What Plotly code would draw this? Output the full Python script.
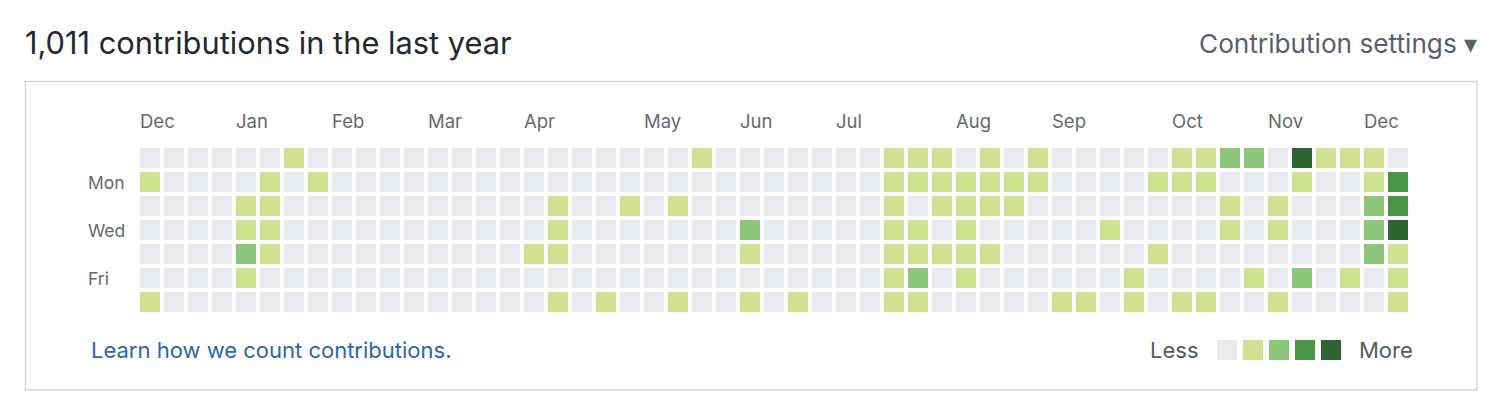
import plotly.graph_objects as go

# ---------------- data ----------------
n_weeks = 53
day_labels = ["", "Mon", "", "Wed", "", "Fri", ""]
month_labels = ["Dec", "Jan", "Feb", "Mar", "Apr", "May", "Jun", "Jul", "Aug", "Sep", "Oct", "Nov", "Dec"]
month_weeks = [0, 4, 8, 12, 16, 21, 25, 29, 34, 38, 43, 47, 51]

# contribution level per (day row -> {week column: level}); other cells are level 0
sun = {6: 1, 23: 1, 31: 1, 32: 1, 33: 1, 35: 1, 37: 1, 43: 1, 44: 1, 45: 2, 46: 2, 48: 4, 49: 1, 50: 1, 51: 1}
mon = {0: 1, 5: 1, 7: 1, 31: 1, 32: 1, 33: 1, 34: 1, 35: 1, 36: 1, 37: 1, 42: 1, 43: 1, 44: 1, 48: 1, 51: 1, 52: 3}
tue = {4: 1, 5: 1, 17: 1, 20: 1, 22: 1, 31: 1, 33: 1, 34: 1, 35: 1, 36: 1, 45: 1, 47: 1, 51: 2, 52: 3}
wed = {4: 1, 5: 1, 17: 1, 25: 2, 31: 1, 32: 1, 34: 1, 40: 1, 45: 1, 47: 1, 51: 2, 52: 4}
thu = {4: 2, 5: 1, 16: 1, 17: 1, 25: 1, 31: 1, 32: 1, 33: 1, 34: 1, 35: 1, 42: 1, 51: 2, 52: 1}
fri = {4: 1, 31: 1, 32: 2, 34: 1, 41: 1, 46: 1, 48: 2, 50: 1, 52: 1}
sat = {0: 1, 17: 1, 19: 1, 22: 1, 25: 1, 27: 1, 31: 1, 32: 1, 38: 1, 39: 1, 41: 1, 43: 1, 44: 1, 47: 1, 52: 1}
week_rows = [sun, mon, tue, wed, thu, fri, sat]

level_colors = ["#e9ebee", "#d0e190", "#8cc679", "#4a9649", "#2e6530"]
title_text = "1,011 contributions in the last year"

# ---------------- figure ----------------
OFF = 8                      # page body margin around the plot div
W, H = 1504 - 2 * OFF, 414 - 2 * OFF
z = [[row.get(w, 0) for w in range(n_weeks)] for row in week_rows]

n = len(level_colors)
colorscale = []
for i, c in enumerate(level_colors):
    colorscale.append([i / n, c])
    colorscale.append([(i + 1) / n, c])

fig = go.Figure()
fig.add_trace(go.Heatmap(
    z=z, x=list(range(n_weeks)), y=list(range(7)),
    zmin=-0.5, zmax=n - 0.5, colorscale=colorscale, showscale=False,
    xgap=4, ygap=4, hoverinfo="skip",
))

def px(x):
    return (x - OFF) / W

def py(y):
    return 1 - (y - OFF) / H

# grid placement: cells 20px, pitch 24px, first cell at x=140, y=148 (window pixels)
x0, x1 = 138, 138 + 24 * n_weeks
y0, y1 = 146, 146 + 24 * 7
FONT = "Inter, Liberation Sans, Arial, sans-serif"
fig.update_layout(
    width=W, height=H,
    margin=dict(l=0, r=0, t=0, b=0),
    paper_bgcolor="white", plot_bgcolor="white",
    font=dict(family=FONT),
    xaxis=dict(domain=[px(x0), px(x1)], range=[-0.5, n_weeks - 0.5], visible=False, fixedrange=True),
    yaxis=dict(domain=[py(y1), py(y0)], range=[6.5, -0.5], visible=False, fixedrange=True),
    showlegend=False,
)

annotations = []
# title
annotations.append(dict(x=px(23), y=py(42), xref="paper", yref="paper", text=title_text,
                        showarrow=False, xanchor="left", yanchor="middle",
                        font=dict(size=30.8, color="#24292e")))
annotations.append(dict(x=px(1479), y=py(43), xref="paper", yref="paper", text="Contribution settings ▾",
                        showarrow=False, xanchor="right", yanchor="middle",
                        font=dict(size=26.2, color="#586069")))
# month labels (data x, paper y)
for lab, wk in zip(month_labels, month_weeks):
    annotations.append(dict(x=wk - 0.5, y=py(121), xref="x", yref="paper", text=lab,
                            showarrow=False, xanchor="left", yanchor="middle",
                            font=dict(size=18.5, color="#666a6e")))
# day labels
for i, lab in enumerate(day_labels):
    if lab:
        annotations.append(dict(x=px(86), y=i, xref="paper", yref="y", text=lab,
                                showarrow=False, xanchor="left", yanchor="middle",
                                font=dict(size=17.5, color="#666a6e")))
# footer
annotations.append(dict(x=px(89), y=py(350), xref="paper", yref="paper",
                        text="Learn how we count contributions.", showarrow=False,
                        xanchor="left", yanchor="middle", font=dict(size=22, color="#2c65b0")))
annotations.append(dict(x=px(1201), y=py(350), xref="paper", yref="paper", text="Less",
                        showarrow=False, xanchor="right", yanchor="middle",
                        font=dict(size=22, color="#555a5e")))
annotations.append(dict(x=px(1357), y=py(350), xref="paper", yref="paper", text="More",
                        showarrow=False, xanchor="left", yanchor="middle",
                        font=dict(size=22, color="#555a5e")))

shapes = []
# container box
shapes.append(dict(type="rect", xref="paper", yref="paper",
                   x0=px(25.5), x1=px(1477), y0=py(390), y1=py(81.5),
                   line=dict(color="#d3d7da", width=1.5), fillcolor="rgba(0,0,0,0)", layer="below"))
# legend swatches
for i, c in enumerate(level_colors):
    lx = 1217 + 26 * i
    shapes.append(dict(type="rect", xref="paper", yref="paper",
                       x0=px(lx), x1=px(lx + 20), y0=py(360), y1=py(340),
                       line=dict(width=0), fillcolor=c))

fig.update_layout(annotations=annotations, shapes=shapes)
fig.write_html("out.html", config={"displayModeBar": False})
